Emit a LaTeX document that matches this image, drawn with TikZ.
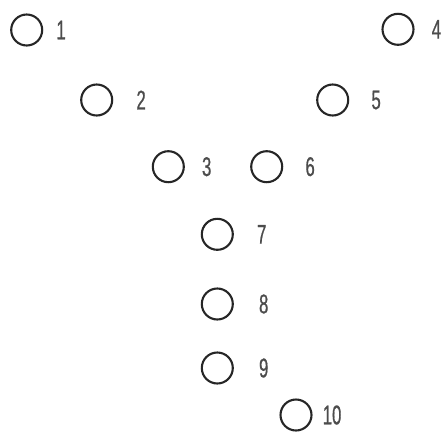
\documentclass[tikz,border=0pt]{standalone}
\usepackage{fontspec}
\setmainfont{Liberation Sans}[FakeStretch=0.62,FakeBold=0.6]
\usetikzlibrary{positioning}

\tikzset{
  seat/.style={circle,draw=black!85,line width=2.1pt,minimum size=31pt,inner sep=0pt},
  seatnum/.style={inner sep=0pt,anchor=west,text=black!70,font=\fontsize{27}{27}\selectfont}
}

\begin{document}
\begin{tikzpicture}[x=1pt,y=1pt,yscale=-1]
%set diagram size to the reference
\useasboundingbox (0,0) rectangle (443,431);

%Circles with their numbers
\foreach \n/\cx/\cy/\gap in {1/26.7/30/13,2/96.7/100/23,3/168.3/166.7/17,4/398/29.3/17,5/332.7/100/22,6/266.7/166.7/22,7/217.3/234.3/23,8/217.3/304/25,9/217.3/368/25,10/296/415/10}{
  \node[seat] (c\n) at (\cx,\cy) {};
  \node[seatnum,right=\gap pt of c\n] (t\n) {\n};
}

\end{tikzpicture}
\end{document}
